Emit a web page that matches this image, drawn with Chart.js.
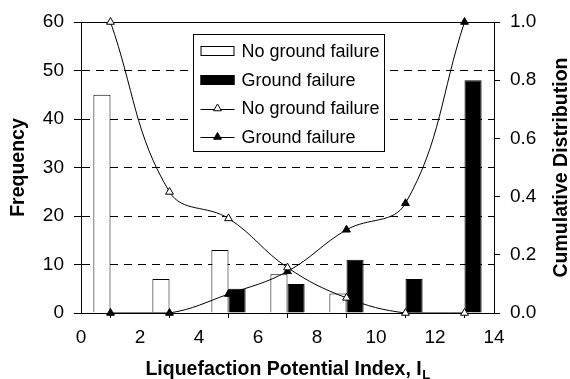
<!DOCTYPE html>
<html>
<head>
<meta charset="utf-8">
<script src="https://cdn.jsdelivr.net/npm/chart.js@4/dist/chart.umd.min.js"></script>
<style>
  html, body { margin: 0; padding: 0; background: #fff; }
  canvas { display: block; }
</style>
</head>
<body>
<canvas id="chart" width="570" height="379"></canvas>
<script>
// Liquefaction potential index bins (bin centres)
const liqIndex = [1, 3, 5, 7, 9, 11, 13];
// Frequency of sites per bin
const noFailureFreq = [45, 7, 13, 8, 4, 0, 0];
const failureFreq = [0, 0, 5, 6, 11, 7, 48];
// Cumulative distributions
const noFailureCum = [1.0, 0.416, 0.325, 0.156, 0.052, 0, 0];
const failureCum = [0, 0, 0.065, 0.143, 0.286, 0.377, 1.0];
// Axis tick values
const xTicks = [0, 2, 4, 6, 8, 10, 12, 14];
const freqTicks = [0, 10, 20, 30, 40, 50, 60];
const cumTicks = [0, 0.2, 0.4, 0.6, 0.8, 1.0];

const FONT = '"Liberation Sans", Arial, sans-serif';

const toPoints = (xs, ys) => xs.map((x, i) => ({ x: x, y: ys[i] }));

// Frame, in-plot legend and axis titles
const decorations = {
  id: 'decorations',
  beforeDatasetsDraw(chart) {
    const { ctx, chartArea: a } = chart;
    // top edge of the plot frame
    ctx.save();
    ctx.strokeStyle = '#000';
    ctx.lineWidth = 1;
    ctx.beginPath();
    ctx.moveTo(a.left, Math.round(a.top) + 0.5);
    ctx.lineTo(a.right, Math.round(a.top) + 0.5);
    ctx.stroke();
    ctx.restore();
  },
  afterDatasetsDraw(chart) {
    const { ctx, chartArea: a } = chart;
    const ds = chart.data.datasets;
    ctx.save();
    ctx.strokeStyle = '#000';
    ctx.lineWidth = 1;

    // legend box
    const bx = a.left + 112.5, by = a.top + 12.5, bw = 191, bh = 117;
    ctx.fillStyle = '#fff';
    ctx.fillRect(bx, by, bw, bh);
    ctx.strokeRect(bx, by, bw, bh);
    const symL = bx + 7, symR = bx + 41, textX = bx + 48;
    const rowY = [by + 16.5, by + 45.5, by + 74, by + 102.5];
    ctx.font = '18px ' + FONT;
    ctx.textBaseline = 'middle';
    ctx.textAlign = 'left';
    ds.forEach((d, i) => {
      const y = rowY[i];
      if (d.type === 'bar') {
        ctx.fillStyle = d.backgroundColor;
        ctx.fillRect(symL, y - 5, symR - symL, 10);
        ctx.strokeStyle = '#000';
        ctx.strokeRect(symL + 0.5, y - 5 + 0.5, symR - symL - 1, 9);
      } else {
        ctx.strokeStyle = '#000';
        ctx.beginPath();
        ctx.moveTo(symL, Math.round(y) + 0.5);
        ctx.lineTo(symR, Math.round(y) + 0.5);
        ctx.stroke();
        const cx = (symL + symR) / 2, r = 4.5;
        ctx.beginPath();
        ctx.moveTo(cx, y - r);
        ctx.lineTo(cx + r * 0.866, y + r / 2);
        ctx.lineTo(cx - r * 0.866, y + r / 2);
        ctx.closePath();
        ctx.fillStyle = d.pointBackgroundColor;
        ctx.fill();
        ctx.stroke();
      }
      ctx.fillStyle = '#000';
      ctx.fillText(d.label, textX, y + 1);
    });

    // axis titles
    const midY = (a.top + a.bottom) / 2;
    ctx.fillStyle = '#000';
    ctx.font = 'bold 19.5px ' + FONT;
    ctx.textAlign = 'center';
    ctx.textBaseline = 'alphabetic';
    ctx.save();
    ctx.translate(24, midY);
    ctx.rotate(-Math.PI / 2);
    ctx.fillText('Frequency', 0, 0);
    ctx.restore();
    ctx.save();
    ctx.translate(567, midY);
    ctx.rotate(-Math.PI / 2);
    ctx.fillText('Cumulative Distribution', 0, 0);
    ctx.restore();

    // x title with subscript L
    const main = 'Liquefaction Potential Index, I';
    const mainW = ctx.measureText(main).width;
    ctx.font = 'bold 13px ' + FONT;
    const subW = ctx.measureText('L').width;
    const startX = (a.left + a.right) / 2 - (mainW + subW) / 2;
    ctx.textAlign = 'left';
    ctx.font = 'bold 19.5px ' + FONT;
    ctx.fillText(main, startX, 375);
    ctx.font = 'bold 13px ' + FONT;
    ctx.fillText('L', startX + mainW + 0.5, 379);
    ctx.restore();
  }
};

new Chart(document.getElementById('chart'), {
  data: {
    datasets: [
      {
        type: 'bar',
        label: 'No ground failure',
        data: toPoints(liqIndex, noFailureFreq),
        backgroundColor: '#fff',
        borderColor: '#000',
        borderWidth: 1,
        yAxisID: 'y',
        categoryPercentage: 0.58,
        barPercentage: 1.0,
        order: 2
      },
      {
        type: 'bar',
        label: 'Ground failure',
        data: toPoints(liqIndex, failureFreq),
        backgroundColor: '#000',
        borderColor: '#000',
        borderWidth: 1,
        yAxisID: 'y',
        categoryPercentage: 0.58,
        barPercentage: 1.0,
        order: 2
      },
      {
        type: 'line',
        label: 'No ground failure',
        data: toPoints(liqIndex, noFailureCum),
        yAxisID: 'y1',
        borderColor: '#000',
        borderWidth: 1,
        tension: 0.4,
        clip: false,
        pointStyle: 'triangle',
        pointRadius: 4.5,
        pointBorderWidth: 1,
        pointBackgroundColor: '#fff',
        pointBorderColor: '#000',
        fill: false,
        order: 0
      },
      {
        type: 'line',
        label: 'Ground failure',
        data: toPoints(liqIndex, failureCum),
        yAxisID: 'y1',
        borderColor: '#000',
        borderWidth: 1,
        tension: 0.4,
        clip: false,
        pointStyle: 'triangle',
        pointRadius: 4.5,
        pointBorderWidth: 1,
        pointBackgroundColor: '#000',
        pointBorderColor: '#000',
        fill: false,
        order: 0
      }
    ]
  },
  options: {
    responsive: false,
    devicePixelRatio: 1,
    animation: false,
    events: [],
    layout: { padding: { top: 22, left: 0, right: 0, bottom: 0 } },
    plugins: { legend: { display: false }, tooltip: { enabled: false } },
    scales: {
      x: {
        type: 'linear',
        min: 0,
        max: 14,
        offset: false,
        afterBuildTicks: s => { s.ticks = xTicks.map(v => ({ value: v })); },
        afterFit: s => { s.height = 66; },
        grid: { drawOnChartArea: false, drawTicks: true, tickLength: 5, tickColor: '#000' },
        border: { display: true, color: '#000', width: 1 },
        ticks: { color: '#000', font: { family: FONT, size: 19 }, padding: 8, maxRotation: 0 }
      },
      y: {
        position: 'left',
        min: 0,
        max: 60,
        afterBuildTicks: s => { s.ticks = freqTicks.map(v => ({ value: v })); },
        afterFit: s => { s.width = 81; },
        grid: {
          drawOnChartArea: true,
          drawTicks: true,
          tickLength: 7,
          tickColor: '#000',
          color: c => (c.tick && (c.tick.value === 0 || c.tick.value === 60)) ? 'rgba(0,0,0,0)' : '#000'
        },
        border: { display: true, color: '#000', width: 1, dash: [8, 6] },
        ticks: { color: '#000', font: { family: FONT, size: 19 }, padding: 10 }
      },
      y1: {
        position: 'right',
        min: 0,
        max: 1,
        afterBuildTicks: s => { s.ticks = cumTicks.map(v => ({ value: v })); },
        afterFit: s => { s.width = 76; },
        grid: { drawOnChartArea: false, drawTicks: true, tickLength: 6, tickColor: '#000' },
        border: { display: true, color: '#000', width: 1 },
        ticks: {
          color: '#000',
          font: { family: FONT, size: 19 },
          padding: 10,
          callback: v => Number(v).toFixed(1)
        }
      }
    }
  },
  plugins: [decorations]
});
</script>
</body>
</html>
